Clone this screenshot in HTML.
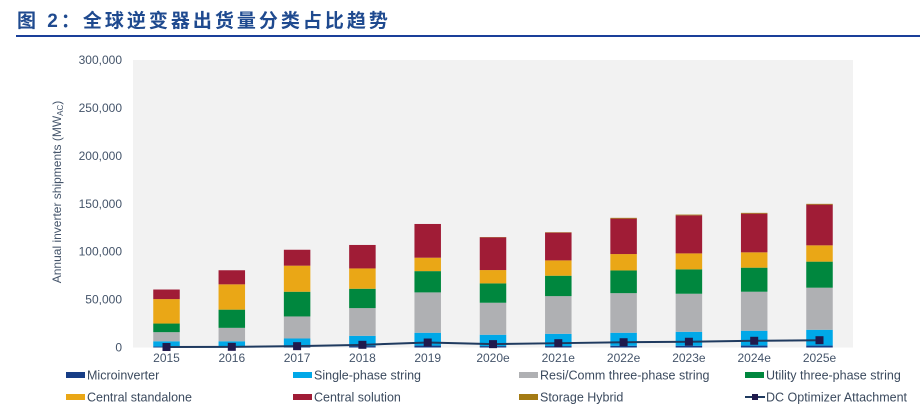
<!DOCTYPE html>
<html><head><meta charset="utf-8">
<style>
html,body{margin:0;padding:0;background:#fff;}
body{width:920px;height:409px;position:relative;overflow:hidden;font-family:"Liberation Sans",Arial,sans-serif;}
#title{position:absolute;left:17px;top:6px;font-family:"Liberation Sans","Noto Sans CJK SC",sans-serif;font-weight:bold;font-size:19px;letter-spacing:3px;color:#1f4a8f;}
#rule{position:absolute;left:16px;top:35px;width:904px;height:2px;background:#1a3f99;}
</style></head><body>
<div id="title">图 2：全球逆变器出货量分类占比趋势</div>
<div id="rule"></div>
<svg id="chart" width="920" height="409" style="position:absolute;left:0;top:0"></svg>
<script>
const categories=["2015","2016","2017","2018","2019","2020e","2021e","2022e","2023e","2024e","2025e"];
const microinverter=[1000,1000,1000,1500,2000,1500,1500,1800,1800,2000,2000];
const singlePhase=[5500,5500,8400,10700,13400,11800,12800,13600,14600,15500,16500];
const resiComm=[9500,14000,23000,28900,42100,33400,39300,41300,39700,40700,43900];
const utility=[9000,19000,25800,20200,22200,20200,21300,23700,25400,25100,27200];
const centralStandalone=[25500,26400,27200,21200,14000,13900,16000,17100,16700,16000,17000];
const centralSolution=[10000,14700,16600,24500,35200,34200,29000,37000,39700,40400,42500];
const storageHybrid=[0,0,0,0,0,300,400,800,800,800,800];
const dcOptimizer=[500,700,1400,2800,5200,3500,4500,5500,6000,7000,7600];
const yTicks=[0,50000,100000,150000,200000,250000,300000];
const yTickLabels=["0","50,000","100,000","150,000","200,000","250,000","300,000"];

const NS="http://www.w3.org/2000/svg";
const svg=document.getElementById('chart');
const X0=133,X1=853,Y0=347.5,Y1=60,YMAX=300000;
const step=65.3,first=166.5,BW=26.5;
function y(v){return Y0-(v/YMAX)*(Y0-Y1);}
function x(i){return first+i*step;}
function mk(tag,attrs){const e=document.createElementNS(NS,tag);for(const k in attrs)e.setAttribute(k,attrs[k]);svg.appendChild(e);return e;}

const bg=mk('rect',{x:X0,y:Y1,width:X1-X0,height:Y0-Y1,fill:'#f2f2f2'});



yTicks.forEach((t,i)=>{
  const tx=mk('text',{x:122,y:y(t)+4,'text-anchor':'end','font-size':'12',fill:'#44546a'});
  tx.textContent=yTickLabels[i];
  
  
});
const yt=mk('text',{x:0,y:0,'font-size':'12',fill:'#44546a','text-anchor':'middle',transform:'translate(61,192) rotate(-90)'});
yt.innerHTML='Annual inverter shipments (MW<tspan font-size="8" dy="2">AC</tspan><tspan dy="-2">)</tspan>';



const series=[
 {d:microinverter,c:'#173d86',n:'microinverter'},
 {d:singlePhase,c:'#00a8e8',n:'single-phase-string'},
 {d:resiComm,c:'#afb0b3',n:'resi-comm-three-phase'},
 {d:utility,c:'#00873e',n:'utility-three-phase'},
 {d:centralStandalone,c:'#eaa716',n:'central-standalone'},
 {d:centralSolution,c:'#a01c36',n:'central-solution'},
 {d:storageHybrid,c:'#a47b14',n:'storage-hybrid'}
];
categories.forEach((cat,i)=>{
  let acc=0;
  series.forEach(s=>{
    const v=s.d[i];
    if(v>0){
      const r=mk('rect',{x:x(i)-BW/2,y:y(acc+v),width:BW,height:y(acc)-y(acc+v),fill:s.c});
      
      
    }
    acc+=v;
  });
  const lb=mk('text',{x:x(i),y:362,'text-anchor':'middle','font-size':'12',fill:'#44546a'});
  lb.textContent=cat;
  
  
});
const pts=dcOptimizer.map((v,i)=>x(i)+','+y(v)).join(' ');
const pl=mk('polyline',{points:pts,fill:'none',stroke:'#1f3a5f','stroke-width':2});


dcOptimizer.forEach((v,i)=>{
  const m=mk('rect',{x:x(i)-4,y:y(v)-4,width:8,height:8,fill:'#201a4d'});
  
  
});

const legend=[
 {t:'Microinverter',c:'#173d86',x:66,y:375},
 {t:'Single-phase string',c:'#00a8e8',x:293,y:375},
 {t:'Resi/Comm three-phase string',c:'#afb0b3',x:519,y:375},
 {t:'Utility three-phase string',c:'#00873e',x:745,y:375},
 {t:'Central standalone',c:'#eaa716',x:66,y:397},
 {t:'Central solution',c:'#a01c36',x:293,y:397},
 {t:'Storage Hybrid',c:'#a47b14',x:519,y:397},
 {t:'DC Optimizer Attachment',c:'line',x:745,y:397}
];
legend.forEach(l=>{
  const g=document.createElementNS(NS,'g');svg.appendChild(g);
  
  
  if(l.c==='line'){
    const ln=document.createElementNS(NS,'line');
    ln.setAttribute('x1',l.x);ln.setAttribute('x2',l.x+20);ln.setAttribute('y1',l.y);ln.setAttribute('y2',l.y);
    ln.setAttribute('stroke','#1f3a5f');ln.setAttribute('stroke-width','2');g.appendChild(ln);
    const m=document.createElementNS(NS,'rect');
    m.setAttribute('x',l.x+7);m.setAttribute('y',l.y-3);m.setAttribute('width',6);m.setAttribute('height',6);m.setAttribute('fill','#201a4d');g.appendChild(m);
  } else {
    const r=document.createElementNS(NS,'rect');
    r.setAttribute('x',l.x);r.setAttribute('y',l.y-3);r.setAttribute('width',19);r.setAttribute('height',6);r.setAttribute('fill',l.c);g.appendChild(r);
  }
  const t=document.createElementNS(NS,'text');
  t.setAttribute('x',l.x+21);t.setAttribute('y',l.y+4.5);t.setAttribute('font-size','12.5');t.setAttribute('fill','#3b4a5e');
  t.textContent=l.t;g.appendChild(t);
});
</script>
</body></html>
